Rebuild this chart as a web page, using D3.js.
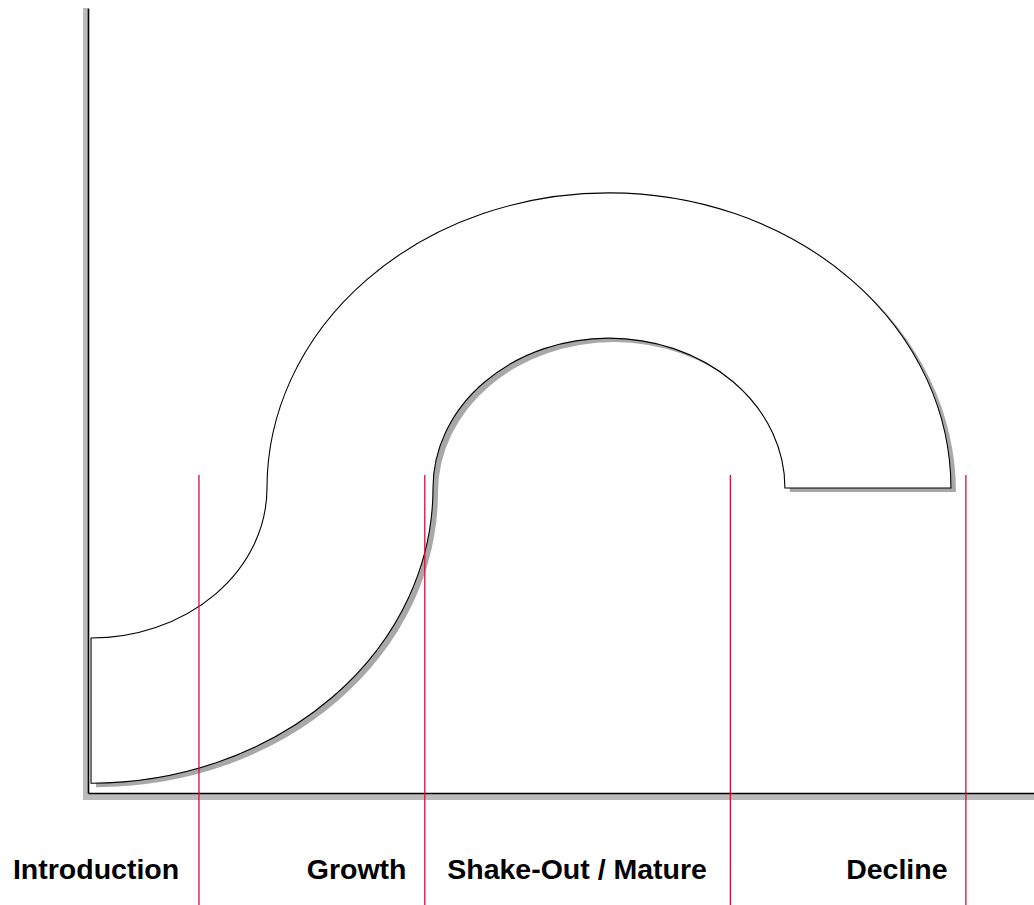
<!DOCTYPE html>
<html lang="en">
<head>
  <meta charset="UTF-8">
  <title>Product Life Cycle</title>
  <style>
    body {
      margin: 0;
      background: #fff;
    }
    #chart {
      width: 1034px;
      height: 905px;
    }
    .phase-label {
      font-family: 'Liberation Sans', Arial, sans-serif;
      font-weight: bold;
      font-size: 28.5px;
      fill: #000;
    }
  </style>
</head>
<body>
  <div id="chart"></div>

  <script src="https://d3js.org/d3.v7.min.js"></script>

  <script>
    // phases of the cycle and where they split (x in % of time axis)
    const phases = ["Introduction", "Growth", "Shake-Out / Mature", "Decline"];
    const phaseBounds = [11.73, 35.6, 67.9, 92.8];
    const labelAt = [0.85, 28.4, 51.7, 85.5];

    // the S band: two elliptic pieces (x in % of time, y in % of height)
    const centerX = [0.32, 55.07];   // left piece, right piece
    const centerY = 38.85;
    const innerRx = 18.6, outerRx = 36.15;
    const innerRy = 19.1, outerRy = 37.6;
    const boundTop = 40.5;           // where the red phase lines start

    const width = 1034;
    const height = 905;

    const x = d3.scaleLinear().domain([0, 100]).range([88, 1034]);
    const y = d3.scaleLinear().domain([0, 100]).range([793, 8]);

    const svg = d3.select("#chart")
      .append("svg")
      .attr("width", width)
      .attr("height", height);

    // axis drop shadows
    svg.append("rect")
      .attr("x", x(0) - 5).attr("y", y(100))
      .attr("width", 5).attr("height", y(0) - y(100) + 7)
      .attr("fill", "#bbbbbb");
    svg.append("rect")
      .attr("x", x(0) - 5).attr("y", y(0) + 1)
      .attr("width", x(100) - x(0) + 5).attr("height", 6)
      .attr("fill", "#bbbbbb");

    // axes: bare lines, no ticks
    const xAxis = svg.append("g")
      .attr("transform", `translate(0,${y(0)})`)
      .call(d3.axisBottom(x).ticks(0).tickSizeOuter(0));
    const yAxis = svg.append("g")
      .attr("transform", `translate(${x(0)},0)`)
      .call(d3.axisLeft(y).ticks(0).tickSizeOuter(0));
    svg.selectAll(".domain")
      .attr("stroke", "#000")
      .attr("stroke-width", 1.6);

    // build the band outline in pixels
    const sx = d => x(d) - x(0);
    const sy = d => y(0) - y(d);
    const rxI = sx(innerRx), rxO = sx(outerRx);
    const ryI = sy(innerRy), ryO = sy(outerRy);
    const cxL = x(centerX[0]), cxR = x(centerX[1]), cy = y(centerY);

    const band = [
      `M${cxL},${cy + ryO}`,
      `L${cxL},${cy + ryI}`,
      `A${rxI},${ryI} 0 0 0 ${cxL + rxI},${cy}`,
      `A${rxO},${ryO} 0 0 1 ${cxR},${cy - ryO}`,
      `A${rxO},${ryO} 0 0 1 ${cxR + rxO},${cy}`,
      `L${cxR + rxI},${cy}`,
      `A${rxI},${ryI} 0 0 0 ${cxR},${cy - ryI}`,
      `A${rxI},${ryI} 0 0 0 ${cxR - rxI},${cy}`,
      `A${rxO},${ryO} 0 0 1 ${cxL},${cy + ryO}`,
      "Z"
    ].join(" ");

    svg.append("path")
      .attr("d", band)
      .attr("transform", "translate(5,4)")
      .attr("fill", "#a8a8a8");

    svg.append("path")
      .attr("d", band)
      .attr("fill", "#fff")
      .attr("stroke", "#000")
      .attr("stroke-width", 1.1);

    // phase boundaries
    svg.selectAll("line.bound")
      .data(phaseBounds)
      .join("line")
      .attr("class", "bound")
      .attr("x1", d => x(d)).attr("x2", d => x(d))
      .attr("y1", y(boundTop)).attr("y2", height)
      .attr("stroke", "#d40f3c")
      .attr("stroke-width", 1.3);

    // phase names
    svg.selectAll("text.phase-label")
      .data(phases)
      .join("text")
      .attr("class", "phase-label")
      .attr("x", (d, i) => x(labelAt[i]))
      .attr("y", 879)
      .attr("text-anchor", "middle")
      .text(d => d);
  </script>
</body>
</html>
